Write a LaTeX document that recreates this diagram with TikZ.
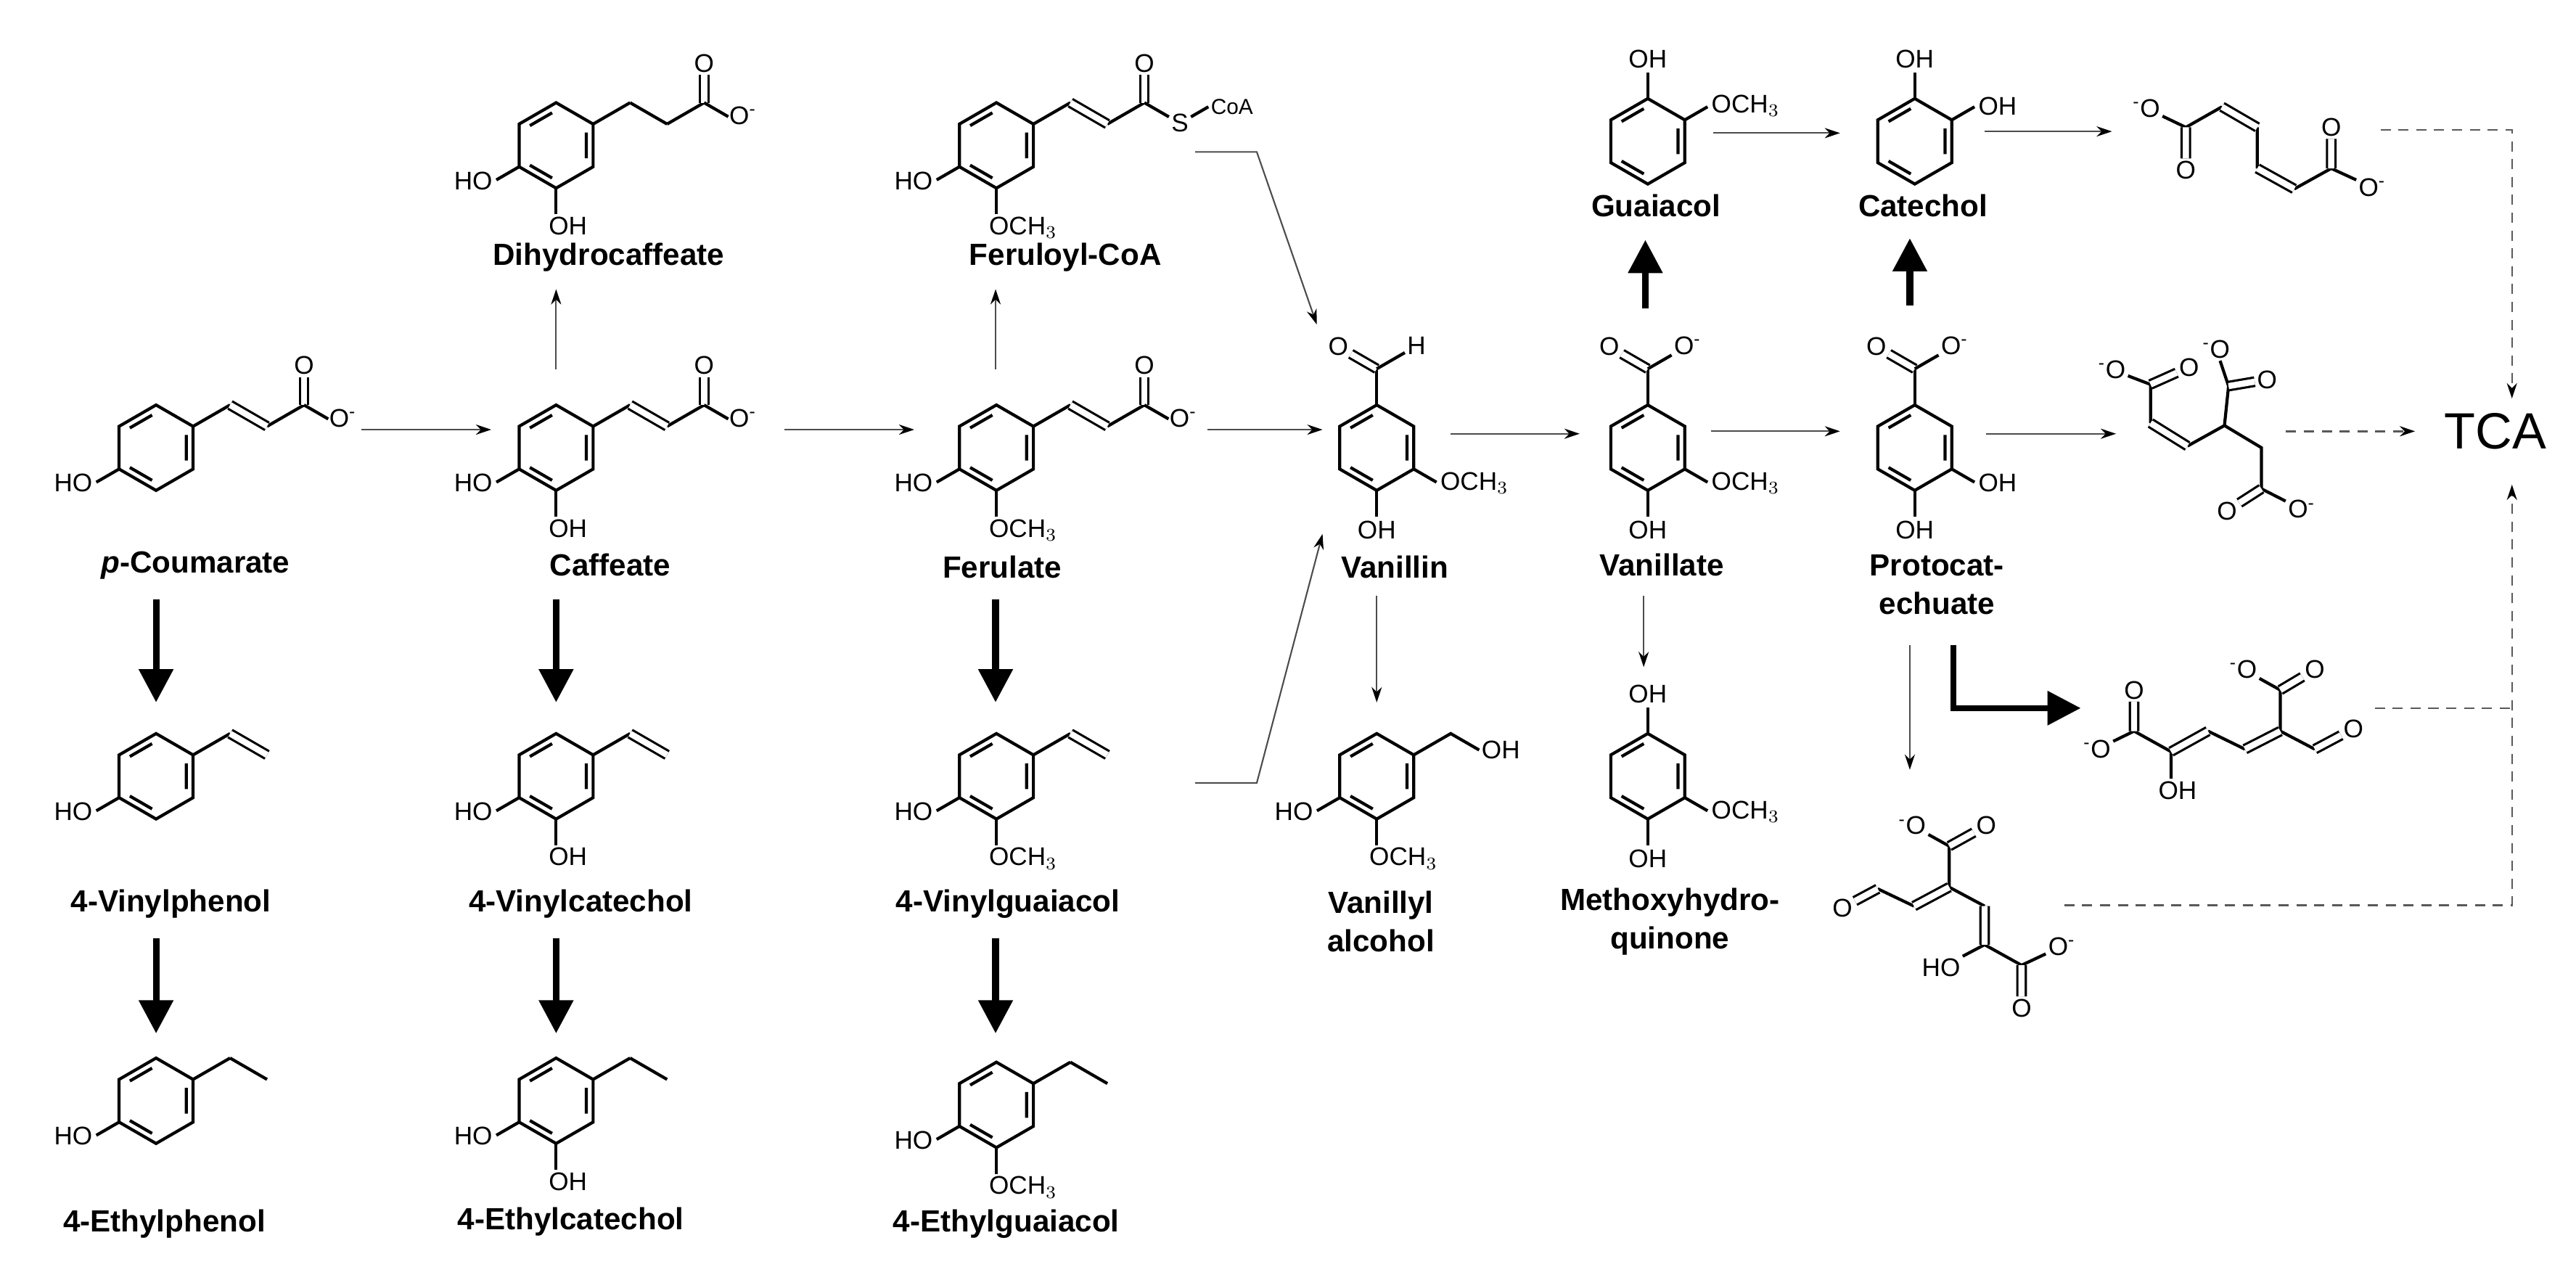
\documentclass[tikz,border=0pt]{standalone}
\usepackage{fontspec}
\setmainfont{Liberation Sans}
\usetikzlibrary{calc,arrows.meta}
\newcommand\benz[2]{\coordinate (c) at (#1,#2);
 \draw[bond] (c) +(-90:52) -- +(-30:52) -- +(30:52) -- +(90:52) -- +(150:52) -- +(210:52) -- cycle;
 \draw[bond] (c) +(-23:40) -- +(23:40) +(97:40) -- +(143:40) +(217:40) -- +(263:40);}
\newcommand\sub[3]{\draw[bond] (c) +(#1:52) -- +(#1:84); \node[atom,anchor=#3] at ($(c)+(#1:86)$) {#2};}
\newcommand\subb[1]{\draw[bond] (c) +(90:52) -- +(90:84); \node[atom,anchor=north west] at ($(c)+(90:84)+(-12,0)$) {#1};}
\newcommand\chain[1]{\path (c) ++(-30:52) coordinate (a0) ++(-30:52) coordinate (a1) ++(30:52) coordinate (a2) ++(-30:52) coordinate (a3);
 \draw[bond] (a0)--(a1) (a2)--(a3); \draw[#1] (a1)--(a2);}
\newcommand\carbox{\draw[dbl] (a3) -- ++(-90:34); \node[atom,anchor=south] at ($(a3)+(-90:34)$) {O};
 \draw[bond] (a3) -- ++(30:34); \node[atom,anchor=west] at ($(a3)+(30:32)$) {O\textsuperscript{-}};}
\newcommand\vinyl[1]{\path (c) ++(-30:52) coordinate (a0) ++(-30:52) coordinate (a1) ++(30:52) coordinate (a2);
 \draw[bond] (a0)--(a1); \draw[#1] (a1)--(a2);}
\newcommand\topgrp[1]{\path (c) ++(-90:52) coordinate (k0) ++(-90:44) coordinate (k);
 \draw[bond] (k0)--(k);
 \node[atom] (ko) at ($(k)+(210:54)$) {O}; \draw[dbl] (k)--(ko);
 \node[atom] (kx) at ($(k)+(-30:56)$) {#1}; \draw[bond] (k)--(kx);}
\begin{document}
\begin{tikzpicture}[x=0.01132cm,y=-0.01132cm,
 bond/.style={line width=1.2pt},
 dbl/.style={double,double distance=2.4pt,line width=0.9pt},
 atom/.style={font=\fontsize{10}{10}\selectfont,inner sep=0.8pt},
 lab/.style={font=\fontsize{12}{15}\selectfont\bfseries,align=center},
 thin/.style={line width=0.6pt,draw=black!70,-{Stealth[length=6pt,width=4pt,black]}},
 thick/.style={line width=2.6pt,-{Triangle[length=13pt,width=13pt]}},
 dsh/.style={line width=0.7pt,draw=black!65,dash pattern=on 4pt off 3pt},
 dashar/.style={dsh,-{Stealth[length=6pt,width=4pt,black]}}]
\useasboundingbox (0,0) rectangle (3136,1541.5);
% ===== left half =====
\benz{190}{545}\sub{150}{HO}{east}\chain{dbl}\carbox
\benz{677}{545}\sub{150}{HO}{east}\subb{OH}\chain{dbl}\carbox
\benz{1213}{545}\sub{150}{HO}{east}\subb{OCH$_3$}\chain{dbl}\carbox
\benz{677}{177}\sub{150}{HO}{east}\subb{OH}\chain{bond}\carbox
\benz{1213}{177}\sub{150}{HO}{east}\subb{OCH$_3$}\chain{dbl}
 \draw[dbl] (a3) -- ++(-90:34); \node[atom,anchor=south] at ($(a3)+(-90:34)$) {O};
 \node[atom] (s) at ($(a3)+(30:50)$) {S}; \draw[bond] (a3) -- (s);
 \node[atom,font=\fontsize{8.5}{9}\selectfont,anchor=west] (coa) at ($(s)+(-30:40)$) {CoA}; \draw[bond] (s) -- (coa.west);
\benz{190}{945}\sub{150}{HO}{east}\vinyl{dbl}
\benz{677}{945}\sub{150}{HO}{east}\subb{OH}\vinyl{dbl}
\benz{1213}{945}\sub{150}{HO}{east}\subb{OCH$_3$}\vinyl{dbl}
\benz{190}{1340}\sub{150}{HO}{east}\vinyl{bond}
\benz{677}{1340}\sub{150}{HO}{east}\subb{OH}\vinyl{bond}
\benz{1213}{1345}\sub{150}{HO}{east}\subb{OCH$_3$}\vinyl{bond}
\node[lab] (l1) at (238,688) {\textit{p}-Coumarate};
\node[lab] (l2) at (743,688) {Caffeate};
\node[lab] (l3) at (1220,690) {Ferulate};
\node[lab] (l4) at (741,313) {Dihydrocaffeate};
\node[lab] (l5) at (1297,313) {Feruloyl-CoA};
\node[lab] (l6) at (208,1100) {4-Vinylphenol};
\node[lab] (l7) at (707,1100) {4-Vinylcatechol};
\node[lab] (l8) at (1227,1100) {4-Vinylguaiacol};
\node[lab] (l9) at (200,1490) {4-Ethylphenol};
\node[lab] (l10) at (695,1487) {4-Ethylcatechol};
\node[lab] (l11) at (1225,1490) {4-Ethylguaiacol};
\draw[thin] (440,523) -- (598,523);
\draw[thin] (955,523) -- (1113,523);
\draw[thin] (1470,523) -- (1610,523);
\draw[thin] (677,450) -- (677,352);
\draw[thin] (1212,450) -- (1212,352);
\draw[thin] (1455,185) -- (1530,185) -- (1603,395);
\draw[thin] (1455,953) -- (1530,953) -- (1610,650);
\foreach \x in {190,677,1212}{\draw[thick] (\x,730) -- (\x,855); \draw[thick] (\x,1142) -- (\x,1258);}
% ===== right half =====
\begin{scope}[shift={(1568,0)}]
\benz{108}{545}\sub{90}{OH}{north}\sub{30}{OCH$_3$}{west}\topgrp{H}
\benz{438}{545}\sub{90}{OH}{north}\sub{30}{OCH$_3$}{west}\topgrp{O\textsuperscript{-}}
\benz{763}{545}\sub{90}{OH}{north}\sub{30}{OH}{west}\topgrp{O\textsuperscript{-}}
\benz{438}{172}\sub{-90}{OH}{south}\sub{-30}{OCH$_3$}{west}
\benz{763}{172}\sub{-90}{OH}{south}\sub{-30}{OH}{west}
\benz{108}{945}\sub{150}{HO}{east}\subb{OCH$_3$}
 \path (c) ++(-30:52) coordinate (a0) ++(-30:52) coordinate (a1);
 \draw[bond] (a0)--(a1) -- ++(30:40); \node[atom,anchor=west] at ($(a1)+(30:40)$) {OH};
\benz{438}{945}\sub{-90}{OH}{south}\sub{90}{OH}{north}\sub{30}{OCH$_3$}{west}
\node[lab] (r1) at (130,690) {Vanillin};
\node[lab] (r2) at (455,688) {Vanillate};
\node[lab] (r3) at (790,712) {Protocat-\\echuate};
\node[lab] (r4) at (448,250) {Guaiacol};
\node[lab] (r5) at (773,250) {Catechol};
\node[lab] (r6) at (113,1122) {Vanillyl\\alcohol};
\node[lab] (r7) at (465,1122) {Methoxyhydro-\\quinone};
\node[font=\fontsize{20}{20}\selectfont] (tca) at (1470,525) {TCA};
% cis,cis-muconate
\node[atom] (m1) at (1045,132) {\textsuperscript{-}O};
\coordinate (c1) at (1093,155); \node[atom] (m2) at (1093,207) {O};
\coordinate (c2) at (1137,130); \coordinate (c3) at (1180,155); \coordinate (c4) at (1180,205);
\coordinate (c5) at (1225,230); \coordinate (c6) at (1270,205);
\node[atom] (m3) at (1270,155) {O}; \node[atom] (m4) at (1320,228) {O\textsuperscript{-}};
\draw[bond] (m1)--(c1)--(c2) (c3)--(c4) (c5)--(c6)--(m4);
\draw[dbl] (c1)--(m2) (c2)--(c3) (c4)--(c5) (c6)--(m3);
% 3-carboxy-muconate
\node[atom] (n1) at (1003,450) {\textsuperscript{-}O};
\coordinate (d1) at (1050,468); \node[atom] (n2) at (1097,447) {O};
\coordinate (d2) at (1050,515); \coordinate (d3) at (1095,543); \coordinate (d4) at (1140,518);
\coordinate (d7) at (1145,470); \node[atom] (n3) at (1130,425) {\textsuperscript{-}O}; \node[atom] (n4) at (1192,462) {O};
\coordinate (d5) at (1185,545); \coordinate (d6) at (1185,595);
\node[atom] (n5) at (1143,622) {O}; \node[atom] (n6) at (1234,620) {O\textsuperscript{-}};
\draw[bond] (n1)--(d1)--(d2) (d3)--(d4)--(d7)--(n3) (d4)--(d5)--(d6)--(n6);
\draw[dbl] (d1)--(n2) (d2)--(d3) (d7)--(n4) (d6)--(n5);
% molecule A
\node[atom] (p1) at (985,912) {\textsuperscript{-}O};
\coordinate (e1) at (1030,890); \node[atom] (p2) at (1030,840) {O};
\coordinate (e2) at (1075,915); \node[atom] (p3) at (1083,962) {OH};
\coordinate (e3) at (1120,890); \coordinate (e4) at (1165,912); \coordinate (e5) at (1208,890);
\coordinate (e7) at (1208,840); \node[atom] (p4) at (1163,815) {\textsuperscript{-}O}; \node[atom] (p5) at (1250,815) {O};
\coordinate (e6) at (1250,912); \node[atom] (p6) at (1297,887) {O};
\draw[bond] (p1)--(e1)--(e2) (e2)--(e2|-p3.north) (e3)--(e4) (e5)--(e7)--(p4) (e5)--(e6);
\draw[dbl] (e1)--(p2) (e2)--(e3) (e4)--(e5) (e7)--(p5) (e6)--(p6);
% molecule B
\node[atom] (q1) at (675,1105) {O};
\coordinate (f1) at (718,1082); \coordinate (f2) at (762,1103); \coordinate (f3) at (805,1080);
\coordinate (f7) at (805,1030); \node[atom] (q2) at (760,1005) {\textsuperscript{-}O}; \node[atom] (q3) at (850,1005) {O};
\coordinate (f4) at (848,1103); \coordinate (f5) at (848,1150);
\node[atom] (q4) at (795,1178) {HO}; \coordinate (f6) at (893,1175);
\node[atom] (q5) at (942,1152) {O\textsuperscript{-}}; \node[atom] (q6) at (893,1227) {O};
\draw[bond] (f1)--(f2) (f3)--(f7)--(q2) (f3)--(f4) (f5)--(q4) (f5)--(f6)--(q5);
\draw[dbl] (q1)--(f1) (f2)--(f3) (f7)--(q3) (f4)--(f5) (f6)--(q6);
% arrows
\draw[thin] (198,528) -- (355,528);
\draw[thin] (515,525) -- (672,525);
\draw[thin] (850,528) -- (1008,528);
\draw[thin] (518,162) -- (672,162);
\draw[thin] (848,160) -- (1003,160);
\draw[thin] (108,725) -- (108,855);
\draw[thin] (433,725) -- (433,812);
\draw[thin] (757,785) -- (757,937);
\draw[thick] (435,375) -- (435,292);
\draw[thick] (757,372) -- (757,290);
\draw[thick,line width=2.2pt] (810,785) -- (810,862) -- (965,862);
\draw[dashar] (1330,158) -- (1490,158) -- (1490,485);
\draw[dashar] (1215,525) -- (1372,525);
\draw[dsh] (1323,862) -- (1490,862);
\draw[dashar] (945,1102) -- (1490,1102) -- (1490,590);
\end{scope}
\end{tikzpicture}
\end{document}
